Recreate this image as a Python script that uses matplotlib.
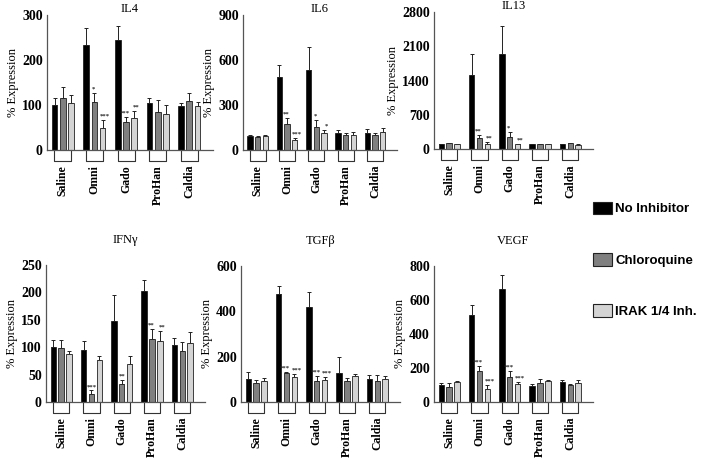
import matplotlib
matplotlib.use("Agg")
import matplotlib.pyplot as plt
from matplotlib.patches import Patch
from matplotlib.transforms import blended_transform_factory
import numpy as np

categories = ["Saline", "Omni", "Gado", "ProHan", "Caldia"]
series_names = ["No Inhibitor", "Chloroquine", "IRAK 1/4 Inh."]
series_colors = ["#000000", "#808080", "#d4d4d4"]

titles = ["IL4", "IL6", "IL13", "IFNγ", "TGFβ", "VEGF"]
ymax = [300, 900, 2800, 250, 600, 800]
yticks = [[0, 100, 200, 300], [0, 300, 600, 900], [0, 700, 1400, 2100, 2800],
          [0, 50, 100, 150, 200, 250], [0, 200, 400, 600], [0, 200, 400, 600, 800]]

# means per panel: [No Inhibitor, Chloroquine, IRAK] x categories
il4_mean = [[99, 233, 245, 104, 98], [115, 106, 63, 84, 110], [104, 50, 71, 81, 98]]
il4_err = [[16, 39, 31, 12, 6], [24, 21, 10, 27, 16], [18, 16, 15, 20, 8]]
il6_mean = [[95, 489, 533, 116, 116], [89, 173, 156, 102, 102], [93, 67, 116, 100, 120]]
il6_err = [[8, 80, 151, 20, 26], [6, 38, 44, 14, 9], [7, 15, 20, 20, 27]]
il13_mean = [[100, 1510, 1933, 100, 100], [114, 235, 248, 94, 114], [100, 107, 100, 100, 87]]
il13_err = [[8, 423, 584, 8, 8], [8, 54, 94, 6, 8], [6, 27, 8, 6, 6]]
ifng_mean = [[101, 95, 148, 202, 104], [99, 15, 32, 115, 93], [87, 76, 69, 111, 107]]
ifng_err = [[12, 17, 47, 21, 12], [14, 6, 8, 18, 17], [6, 8, 15, 18, 21]]
tgfb_mean = [[100, 475, 419, 130, 100], [82, 129, 94, 94, 91], [94, 111, 97, 114, 101]]
tgfb_err = [[32, 37, 68, 69, 19], [16, 4, 22, 14, 28], [12, 14, 14, 8, 15]]
vegf_mean = [[101, 509, 665, 92, 119], [90, 183, 150, 113, 100], [115, 76, 107, 121, 113]]
vegf_err = [[12, 61, 84, 13, 8], [21, 30, 31, 22, 7], [8, 25, 12, 6, 18]]

means = [il4_mean, il6_mean, il13_mean, ifng_mean, tgfb_mean, vegf_mean]
errs = [il4_err, il6_err, il13_err, ifng_err, tgfb_err, vegf_err]

# significance markers: (series index, category index, text)
stars = [
    [(1, 1, "*"), (2, 1, "***"), (1, 2, "***"), (2, 2, "**")],
    [(1, 1, "**"), (2, 1, "***"), (1, 2, "*"), (2, 2, "*")],
    [(1, 1, "**"), (2, 1, "**"), (1, 2, "*"), (2, 2, "**")],
    [(1, 1, "***"), (1, 2, "**"), (1, 3, "**"), (2, 3, "**")],
    [(1, 1, "***"), (2, 1, "***"), (1, 2, "***"), (2, 2, "***")],
    [(1, 1, "***"), (2, 1, "***"), (1, 2, "***"), (2, 2, "***")],
]

W, H = 701, 467
# axes boxes in pixels: left, top, right, bottom
boxes = [(47, 15, 213, 150), (243, 15, 397, 150), (434, 12, 593, 149),
         (46, 265, 205, 402), (241, 266, 400, 402), (434, 266, 593, 402)]

fig = plt.figure(figsize=(W / 100, H / 100), dpi=100)
serif = "Liberation Serif"
offsets = [-0.26, 0.0, 0.26]
bw = 0.18
x = np.arange(len(categories))

for p in range(6):
    l, t, r, b = boxes[p]
    ax = fig.add_axes([l / W, 1 - b / H, (r - l) / W, (b - t) / H])
    for s in range(3):
        ax.bar(x + offsets[s], means[p][s], width=bw, color=series_colors[s],
               edgecolor="#222222", linewidth=0.6, zorder=2)
        ax.errorbar(x + offsets[s], means[p][s], yerr=[np.zeros(5), errs[p][s]],
                    fmt="none", ecolor="#222222", elinewidth=0.7, capsize=1.5,
                    capthick=0.7, zorder=1)
    cats_with_star = [c for (_, c, _) in stars[p]]
    for (s, c, txt) in stars[p]:
        top = means[p][s][c] + errs[p][s][c]
        dx = 0
        if cats_with_star.count(c) > 1:
            dx = -1.0 if s == 1 else 1.5
        ax.annotate(txt, (x[c] + offsets[s], top), xytext=(dx, 1),
                    textcoords="offset points", ha="center", va="bottom",
                    fontsize=4.8, fontweight="bold", family=serif, color="#222222")
    ax.set_xlim(-0.5, 4.75)
    ax.set_ylim(0, ymax[p])
    ax.set_yticks(yticks[p])
    ax.set_yticklabels([str(v) for v in yticks[p]], family=serif,
                       fontweight="bold", fontsize=10)
    ax.set_xticks([])
    for sp in ["top", "right"]:
        ax.spines[sp].set_visible(False)
    for sp in ["left", "bottom"]:
        ax.spines[sp].set_color("#555555")
        ax.spines[sp].set_linewidth(0.9)
    ax.tick_params(axis="y", length=0, pad=3)
    ax.set_ylabel("% Expression", family=serif, fontsize=9, labelpad=2)
    ax.set_title(titles[p], family=serif, fontsize=9,
                 pad=2 if p < 3 else 16)
    # group brackets and category labels
    tr = blended_transform_factory(ax.transData, ax.transAxes)
    bh = 11 / (b - t)
    for c in range(len(categories)):
        x0, x1 = x[c] - 0.27, x[c] + 0.27
        ax.plot([x0, x0, x1, x1], [0, -bh, -bh, 0], transform=tr, color="#333333",
                linewidth=0.8, clip_on=False)
        ax.text(x[c], -bh - 4 / (b - t), categories[c], transform=tr, rotation=90,
                ha="center", va="top", family=serif, fontweight="bold", fontsize=8.5)

handles = [Patch(facecolor=series_colors[i], edgecolor="#222222", linewidth=0.8)
           for i in range(3)]
fig.legend(handles, series_names, loc="upper left", bbox_to_anchor=(586 / W, 1 - 195 / H),
           frameon=False, prop={"family": "Liberation Sans", "weight": "bold", "size": 9.5},
           handlelength=1.5, handleheight=1.1, handletextpad=0.2, labelspacing=2.85,
           borderpad=0)

fig.savefig("out.png", dpi=100)
